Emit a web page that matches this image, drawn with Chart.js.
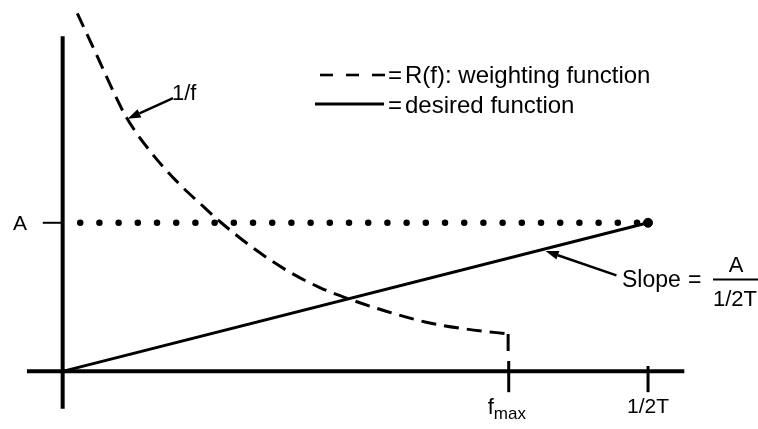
<!DOCTYPE html>
<html><head><meta charset="utf-8">
<script src="https://cdn.jsdelivr.net/npm/chart.js@4/dist/chart.umd.min.js"></script>
<style>html,body{margin:0;padding:0;background:#fff;overflow:hidden}#wrap{width:758px;height:429px;position:relative}</style>
</head><body><div id="wrap"><canvas id="c" width="758" height="429"></canvas></div>
<script>
// frequency axis in units of 1/2T, amplitude in units of A
const weightX = [0.025, 0.059, 0.088, 0.109, 0.150, 0.194, 0.236, 0.269, 0.328, 0.386, 0.441, 0.488, 0.554, 0.621, 0.689, 0.761];
const weightY = [2.41, 2.121, 1.872, 1.708, 1.479, 1.282, 1.125, 1.007, 0.823, 0.672, 0.561, 0.489, 0.403, 0.331, 0.285, 0.252];
const fMax = 0.762;
const weightDropEndY = 0.13;
const desiredX = [0, 1];
const desiredY = [0, 1];
const levelA = 1;
const dottedX = [0.03, 1];
const halfT = 1;
const xTickValues = [fMax, halfT];
const xTickLabels = ['f', '1/2T'];
const xTickSubs = ['max', ''];
const yTickValues = [levelA];
const yTickLabels = ['A'];
const legendLabels = ['R(f): weighting function', 'desired function'];
const curveLabel = '1/f';
const slopeLabel = 'Slope';
const slopeNum = 'A';
const slopeDen = '1/2T';

const FONT = '"Liberation Sans", Arial, Helvetica, sans-serif';

const annot = {
  id: 'annot',
  beforeDatasetsDraw(chart) {
    const ctx = chart.ctx, xs = chart.scales.x, ys = chart.scales.y;
    const px = v => xs.getPixelForValue(v), py = v => ys.getPixelForValue(v);
    ctx.save();
    ctx.strokeStyle = '#000';
    ctx.lineCap = 'butt';
    ctx.lineWidth = 4;
    ctx.beginPath(); ctx.moveTo(px(0), py(2.256)); ctx.lineTo(px(0), py(-0.252)); ctx.stroke();
    ctx.beginPath(); ctx.moveTo(px(-0.061), py(0)); ctx.lineTo(px(1.062), py(0)); ctx.stroke();
    ctx.lineWidth = 3;
    ctx.beginPath(); ctx.moveTo(px(xTickValues[0]), py(0.07)); ctx.lineTo(px(xTickValues[0]), py(-0.14)); ctx.stroke();
    ctx.beginPath(); ctx.moveTo(px(xTickValues[1]), py(0.036)); ctx.lineTo(px(xTickValues[1]), py(-0.14)); ctx.stroke();
    ctx.lineWidth = 2;
    ctx.beginPath(); ctx.moveTo(px(-0.034), py(yTickValues[0])); ctx.lineTo(px(0), py(yTickValues[0])); ctx.stroke();
    ctx.restore();
  },
  afterDraw(chart) {
    const ctx = chart.ctx, xs = chart.scales.x, ys = chart.scales.y;
    const px = v => xs.getPixelForValue(v), py = v => ys.getPixelForValue(v);
    ctx.save();
    ctx.fillStyle = '#000'; ctx.strokeStyle = '#000';
    ctx.textBaseline = 'alphabetic';
    ctx.textAlign = 'right';
    ctx.font = '21px ' + FONT;
    ctx.fillText(yTickLabels[0], 27, py(yTickValues[0]) + 7);
    // f_max
    ctx.textAlign = 'left';
    ctx.font = '22px ' + FONT;
    const fw = ctx.measureText(xTickLabels[0]).width;
    let sx = px(xTickValues[0]) - 21;
    ctx.fillText(xTickLabels[0], sx, py(0) + 43);
    ctx.font = '17px ' + FONT;
    ctx.fillText(xTickSubs[0], sx + fw, py(0) + 48);
    ctx.textAlign = 'center';
    ctx.font = '21px ' + FONT;
    ctx.fillText(xTickLabels[1], px(xTickValues[1]), py(0) + 42);

    // legend
    ctx.lineWidth = 2.6;
    ctx.setLineDash([13, 13]);
    ctx.beginPath(); ctx.moveTo(320, 75); ctx.lineTo(386, 75); ctx.stroke();
    ctx.setLineDash([]);
    ctx.lineWidth = 3;
    ctx.beginPath(); ctx.moveTo(315, 104); ctx.lineTo(384, 104); ctx.stroke();
    ctx.textAlign = 'left';
    ctx.font = '24px ' + FONT;
    ctx.fillText('=', 388, 83);
    ctx.fillText(legendLabels[0], 405, 83);
    ctx.fillText('=', 388, 113);
    ctx.fillText(legendLabels[1], 405, 113);

    // 1/f label + arrow
    ctx.font = '22px ' + FONT;
    ctx.fillText(curveLabel, 172, 100);
    arrow(ctx, px(0.1886), py(1.839), px(0.111), py(1.70));

    // slope label + arrow
    ctx.font = '23px ' + FONT;
    ctx.fillText(slopeLabel, 622, 287);
    ctx.fillText('=', 688, 287);
    ctx.font = '22px ' + FONT;
    ctx.textAlign = 'center';
    ctx.fillText(slopeNum, 736, 272);
    ctx.fillText(slopeDen, 735, 306);
    ctx.lineWidth = 2;
    ctx.beginPath(); ctx.moveTo(713, 279.5); ctx.lineTo(758, 279.5); ctx.stroke();
    arrow(ctx, px(0.946), py(0.646), px(0.825), py(0.81));
    ctx.restore();
  }
};

function arrow(ctx, x1, y1, x2, y2) {
  const ang = Math.atan2(y2 - y1, x2 - x1);
  const L = 13, W = 4.5;
  const bx = x2 - L * Math.cos(ang), by = y2 - L * Math.sin(ang);
  ctx.lineWidth = 2.4;
  ctx.beginPath(); ctx.moveTo(x1, y1); ctx.lineTo(bx, by); ctx.stroke();
  ctx.beginPath();
  ctx.moveTo(x2, y2);
  ctx.lineTo(bx + W * Math.sin(ang), by - W * Math.cos(ang));
  ctx.lineTo(bx - W * Math.sin(ang), by + W * Math.cos(ang));
  ctx.closePath(); ctx.fill();
}

const lastI = weightX.length - 1;
new Chart(document.getElementById('c'), {
  type: 'scatter',
  data: {
    datasets: [
      { data: weightX.map((x, i) => ({ x, y: weightY[i] })), showLine: true, borderColor: '#000', borderWidth: 3, borderDash: [15, 8], pointRadius: 0, cubicInterpolationMode: 'monotone' },
      { data: [{ x: weightX[lastI], y: weightY[lastI] }, { x: weightX[lastI], y: weightDropEndY }], showLine: true, borderColor: '#000', borderWidth: 3, borderDash: [17, 7], pointRadius: 0 },
      { data: dottedX.map(x => ({ x, y: levelA })), showLine: true, borderColor: '#000', borderWidth: 6.5, borderDash: [0, 19.2], borderCapStyle: 'round', pointRadius: 0 },
      { data: [{ x: halfT, y: levelA }], pointRadius: 4.5, backgroundColor: '#000', borderColor: '#000', showLine: false },
      { data: desiredX.map((x, i) => ({ x, y: desiredY[i] })), showLine: true, borderColor: '#000', borderWidth: 3, pointRadius: 0 }
    ]
  },
  options: {
    responsive: false, animation: false, devicePixelRatio: 1,
    layout: { padding: 0 },
    scales: {
      x: { type: 'linear', min: -0.09764, max: 1.17845, display: false },
      y: { type: 'linear', min: -0.3508, max: 2.4623, display: false }
    },
    plugins: { legend: { display: false }, tooltip: { enabled: false } }
  },
  plugins: [annot]
});
</script>
</body></html>
